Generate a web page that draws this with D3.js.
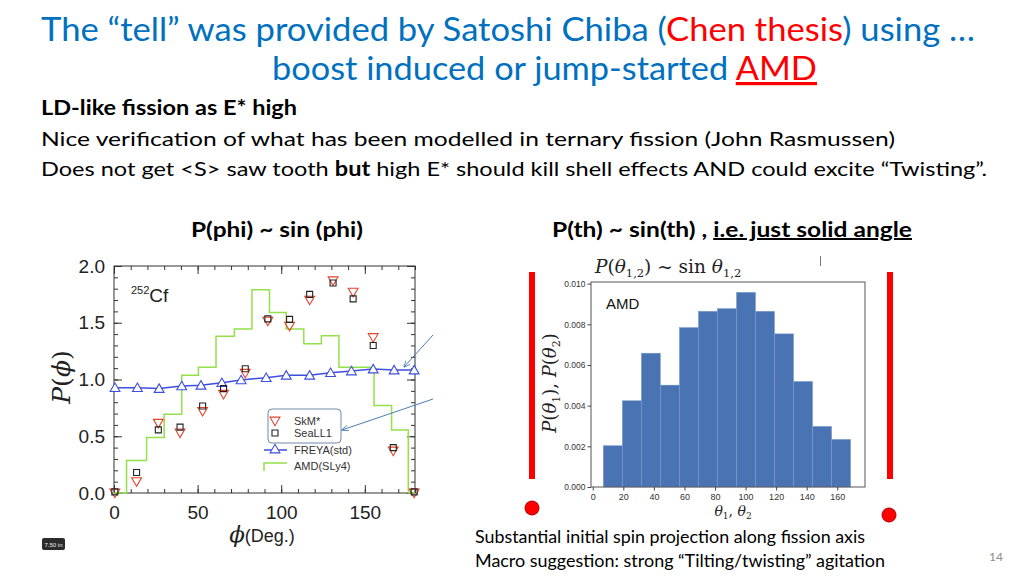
<!DOCTYPE html>
<html>
<head>
<meta charset="utf-8">
<script src="https://cdn.jsdelivr.net/npm/d3@7"></script>
<style>
  body { margin: 0; background: #fff; }
  svg { display: block; }
</style>
</head>
<body>
<script>
// ---- data: left panel, P(phi) for 252Cf ----
var phiPts   = [0.5, 13.5, 26.5, 39.5, 53, 65.5, 78.5, 92, 105, 117, 131, 143, 155, 167, 179.5];
var skmVals  = [0.00, 0.10, 0.615, 0.53, 0.72, 0.87, 1.055, 1.515, 1.47, 1.70, 1.87, 1.77, 1.37, 0.37, 0.00];
var seaVals  = [0.01, 0.18, 0.556, 0.58, 0.767, 0.92, 1.095, 1.534, 1.53, 1.75, 1.85, 1.71, 1.30, 0.40, 0.01];
var freyaPhi = [0.6, 14, 27, 40.5, 52, 64.5, 76, 91, 103, 117, 129.5, 142, 155, 167.5, 179.5];
var freyaVals= [0.928, 0.928, 0.92, 0.943, 0.949, 0.972, 0.996, 1.016, 1.037, 1.037, 1.06, 1.075, 1.092, 1.083, 1.083];
var amdEdges = [0, 7.5, 19.5, 30, 40.5, 50.5, 61, 72, 82.5, 93, 103, 113.5, 124, 134.5, 145, 155.5, 166, 176, 180];
var amdVals  = [0, 0.287, 0.49, 0.694, 1.037, 1.107, 1.382, 1.446, 1.79, 1.59, 1.446, 1.315, 1.385, 1.107, 1.107, 0.77, 0.556, 0];
var phiTicks = [0, 50, 100, 150];
var pTicks   = [0, 0.5, 1.0, 1.5, 2.0];

// ---- data: right panel, AMD theta histogram ----
var thEdges = [6.9, 19.35, 31.8, 44.25, 56.7, 69.15, 81.6, 94.05, 106.5, 118.95, 131.4, 143.85, 156.3, 168.75];
var thVals  = [0.00203, 0.00424, 0.00658, 0.00501, 0.00784, 0.00864, 0.00877, 0.00957, 0.00864, 0.00753, 0.00519, 0.00298, 0.00234];
var thTicks = [0, 20, 40, 60, 80, 100, 120, 140, 160];
var densTicks = [0, 0.002, 0.004, 0.006, 0.008, 0.010];

var W = 1024, H = 576;
var slideFont = "Lato, 'Open Sans', sans-serif";
var chartFont = "'Liberation Sans', Arial, sans-serif";
var mathFont = "'DejaVu Serif', 'Liberation Serif', serif";

var svg = d3.select("body").append("svg")
    .attr("width", W)
    .attr("height", H);

svg.append("defs").append("marker")
    .attr("id", "arrow")
    .attr("viewBox", "0 0 10 10")
    .attr("refX", 9).attr("refY", 5)
    .attr("markerWidth", 7).attr("markerHeight", 7)
    .attr("orient", "auto")
  .append("path")
    .attr("d", "M0,1 L10,5 L0,9")
    .attr("fill", "none")
    .attr("stroke", "#4a7ebb")
    .attr("stroke-width", 1.2);

// slide text helper: parts = [[text, {fill, weight, underline}]...]
function slideText(x, y, size, len, parts, anchor) {
  var t = svg.append("text")
      .attr("x", x).attr("y", y)
      .attr("font-family", slideFont)
      .attr("font-size", size)
      .attr("text-anchor", anchor || "start")
      .attr("textLength", len)
      .attr("lengthAdjust", "spacingAndGlyphs");
  parts.forEach(function(p) {
    var s = t.append("tspan").text(p[0]);
    var o = p[1] || {};
    if (o.fill) s.attr("fill", o.fill);
    if (o.weight) s.attr("font-weight", o.weight);
    if (o.underline) s.attr("text-decoration", "underline");
  });
  return t;
}

var blue = "#0070c0", red = "#ff0000";

// title
slideText(41, 41, 32, 934, [
  ["The \u201ctell\u201d was provided by Satoshi Chiba (", {fill: blue}],
  ["Chen thesis", {fill: red}],
  [") using \u2026", {fill: blue}]
]);
slideText(272, 80, 32, 545, [
  ["boost induced or jump-started ", {fill: blue}],
  ["AMD", {fill: red, underline: true}]
]);

slideText(41, 115, 20, 256, [["LD-like fission as E* high", {fill: "#000", weight: "bold"}]]);
slideText(41, 146, 20, 854, [["Nice verification of what has been modelled in ternary fission (John Rasmussen)", {fill: "#000"}]]);
slideText(41, 176, 20, 946, [
  ["Does not get <S> saw tooth ", {fill: "#000"}],
  ["but", {fill: "#000", weight: "bold"}],
  [" high E* should kill shell effects AND could excite \u201cTwisting\u201d.", {fill: "#000"}]
]);

slideText(191, 237, 20, 172, [["P(phi) ~ sin (phi)", {fill: "#000", weight: "bold"}]]);
slideText(552, 237, 20, 360, [
  ["P(th) ~ sin(th) , ", {fill: "#000", weight: "bold"}],
  ["i.e. just solid angle", {fill: "#000", weight: "bold", underline: true}]
]);

slideText(475, 543, 17, 390, [["Substantial initial spin projection along fission axis", {fill: "#000"}]]);
slideText(475, 567, 17, 410, [["Macro suggestion: strong \u201cTilting/twisting\u201d agitation", {fill: "#000"}]]);

svg.append("text")
    .attr("x", 1003).attr("y", 561)
    .attr("text-anchor", "end")
    .attr("font-family", slideFont)
    .attr("font-size", 12)
    .attr("fill", "#8c8c8c")
    .text("14");

// little ruler tag bottom left
svg.append("rect")
    .attr("x", 42).attr("y", 538).attr("width", 23).attr("height", 12)
    .attr("rx", 2).attr("fill", "#2b2b2b");
svg.append("text")
    .attr("x", 53.5).attr("y", 547)
    .attr("text-anchor", "middle")
    .attr("font-family", chartFont)
    .attr("font-size", 6)
    .attr("fill", "#eee")
    .text("7.50 in");

// ================= left panel =================
var x1 = d3.scaleLinear().domain([0, 180]).range([114, 415]);
var y1 = d3.scaleLinear().domain([0, 2]).range([493, 266]);

var left = svg.append("g");

function tickAxis(axis, transform) {
  var g = left.append("g")
      .attr("transform", transform)
      .call(axis);
  g.select(".domain").remove();
  g.selectAll(".tick line").attr("stroke", "#333").attr("stroke-width", 1);
  return g;
}

var minorX = d3.range(0, 181, 10);
var minorY = d3.range(0, 21, 1).map(function(d) { return d / 10; });

// minor ticks (inward, all four sides)
tickAxis(d3.axisBottom(x1).tickValues(minorX).tickSize(-4).tickFormat(""), "translate(0,493)");
tickAxis(d3.axisTop(x1).tickValues(minorX).tickSize(-4).tickFormat(""), "translate(0,266)");
tickAxis(d3.axisLeft(y1).tickValues(minorY).tickSize(-4).tickFormat(""), "translate(114,0)");
tickAxis(d3.axisRight(y1).tickValues(minorY).tickSize(-4).tickFormat(""), "translate(415,0)");

// major ticks with labels
var xb = tickAxis(d3.axisBottom(x1).tickValues(phiTicks).tickSize(-8).tickPadding(13).tickFormat(d3.format("d")), "translate(0,493)");
xb.selectAll("text").attr("font-family", chartFont).attr("font-size", 19).attr("fill", "#222");
tickAxis(d3.axisTop(x1).tickValues(phiTicks).tickSize(-8).tickFormat(""), "translate(0,266)");
var yl = tickAxis(d3.axisLeft(y1).tickValues(pTicks).tickSize(-8).tickPadding(9).tickFormat(d3.format(".1f")), "translate(114,0)");
yl.selectAll("text").attr("font-family", chartFont).attr("font-size", 19).attr("fill", "#222");
tickAxis(d3.axisRight(y1).tickValues(pTicks).tickSize(-8).tickFormat(""), "translate(415,0)");

left.append("rect")
    .attr("x", 114).attr("y", 266)
    .attr("width", 415 - 114).attr("height", 493 - 266)
    .attr("fill", "none").attr("stroke", "#333").attr("stroke-width", 1);

// AMD(SLy4) step line
var amdStep = [];
amdVals.forEach(function(v, i) {
  amdStep.push([amdEdges[i], v]);
  amdStep.push([amdEdges[i + 1], v]);
});
left.append("path")
    .datum(amdStep)
    .attr("fill", "none")
    .attr("stroke", "#94e04a")
    .attr("stroke-width", 1.5)
    .attr("d", d3.line().x(function(d) { return x1(d[0]); }).y(function(d) { return y1(d[1]); }));

// FREYA line
left.append("path")
    .datum(freyaVals)
    .attr("fill", "none")
    .attr("stroke", "#3d4fdc")
    .attr("stroke-width", 1.5)
    .attr("d", d3.line().x(function(d, i) { return x1(freyaPhi[i]); }).y(function(d) { return y1(d); }));

var triUp = d3.symbol().type(d3.symbolTriangle).size(42);
var square = d3.symbol().type(d3.symbolSquare).size(36);

left.selectAll(".freya")
    .data(freyaVals)
  .enter().append("path")
    .attr("class", "freya")
    .attr("d", triUp)
    .attr("transform", function(d, i) { return "translate(" + x1(freyaPhi[i]) + "," + (y1(d) + 1) + ")"; })
    .attr("fill", "#fff")
    .attr("stroke", "#3d4fdc")
    .attr("stroke-width", 1.1);

left.selectAll(".skm")
    .data(skmVals)
  .enter().append("path")
    .attr("class", "skm")
    .attr("d", triUp)
    .attr("transform", function(d, i) { return "translate(" + x1(phiPts[i]) + "," + (y1(d) - 1) + ") rotate(180)"; })
    .attr("fill", "none")
    .attr("stroke", "#e2432b")
    .attr("stroke-width", 1.1);

left.selectAll(".sea")
    .data(seaVals)
  .enter().append("path")
    .attr("class", "sea")
    .attr("d", square)
    .attr("transform", function(d, i) { return "translate(" + x1(phiPts[i]) + "," + y1(d) + ")"; })
    .attr("fill", "none")
    .attr("stroke", "#222")
    .attr("stroke-width", 1.1);

// 252Cf label
var cf = left.append("text")
    .attr("x", 131).attr("y", 302)
    .attr("font-family", chartFont)
    .attr("fill", "#222");
cf.append("tspan").attr("font-size", 11).attr("dy", -8).text("252");
cf.append("tspan").attr("font-size", 19).attr("dy", 8).text("Cf");

// axis titles
var pl = left.append("text")
    .attr("transform", "translate(70,377) rotate(-90)")
    .attr("text-anchor", "middle")
    .attr("font-family", mathFont)
    .attr("font-size", 25)
    .attr("fill", "#222");
pl.append("tspan").attr("font-style", "italic").text("P");
pl.append("tspan").text("(");
pl.append("tspan").attr("font-style", "italic").text("\u03d5");
pl.append("tspan").text(")");

var xl = left.append("text")
    .attr("x", 262).attr("y", 542)
    .attr("text-anchor", "middle")
    .attr("fill", "#222");
xl.append("tspan").attr("font-family", mathFont).attr("font-style", "italic").attr("font-size", 23).text("\u03d5");
xl.append("tspan").attr("font-family", chartFont).attr("font-size", 18).text("(Deg.)");

// legend
left.append("rect")
    .attr("x", 268).attr("y", 409)
    .attr("width", 73).attr("height", 34)
    .attr("rx", 4)
    .attr("fill", "#fff")
    .attr("stroke", "#6f89aa")
    .attr("stroke-width", 1);

var legItems = ["SkM*", "SeaLL1", "FREYA(std)", "AMD(SLy4)"];
var legY = [421, 433, 450, 466];
legItems.forEach(function(name, i) {
  left.append("text")
      .attr("x", 294).attr("y", legY[i] + 4)
      .attr("font-family", chartFont)
      .attr("font-size", 11)
      .attr("fill", "#333")
      .text(name);
});
left.append("path").attr("d", triUp).attr("transform", "translate(275,420) rotate(180)")
    .attr("fill", "none").attr("stroke", "#e2432b").attr("stroke-width", 1.1);
left.append("path").attr("d", square).attr("transform", "translate(275,433)")
    .attr("fill", "none").attr("stroke", "#222").attr("stroke-width", 1.1);
left.append("line").attr("x1", 264).attr("x2", 287).attr("y1", 450).attr("y2", 450)
    .attr("stroke", "#3d4fdc").attr("stroke-width", 1.5);
left.append("path").attr("d", triUp).attr("transform", "translate(275,450)")
    .attr("fill", "#fff").attr("stroke", "#3d4fdc").attr("stroke-width", 1.1);
left.append("path").attr("d", "M264,471 V463 H287")
    .attr("fill", "none").attr("stroke", "#94e04a").attr("stroke-width", 1.5);

// annotation arrows
svg.append("line").attr("x1", 433).attr("y1", 335).attr("x2", 404).attr("y2", 367)
    .attr("stroke", "#4a7ebb").attr("stroke-width", 1).attr("marker-end", "url(#arrow)");
svg.append("line").attr("x1", 433).attr("y1", 399).attr("x2", 342).attr("y2", 430)
    .attr("stroke", "#4a7ebb").attr("stroke-width", 1).attr("marker-end", "url(#arrow)");

// ================= right panel =================
var x2 = d3.scaleLinear().domain([-1.15, 178.15]).range([591, 865]);
var y2 = d3.scaleLinear().domain([0, 0.01008]).range([487, 282]);

var right = svg.append("g");

right.selectAll(".bar")
    .data(thVals)
  .enter().append("rect")
    .attr("class", "bar")
    .attr("x", function(d, i) { return x2(thEdges[i]); })
    .attr("width", function(d, i) { return x2(thEdges[i + 1]) - x2(thEdges[i]); })
    .attr("y", function(d) { return y2(d); })
    .attr("height", function(d) { return y2(0) - y2(d); })
    .attr("fill", "#4a73b3")
    .attr("stroke", "#7d9ccd")
    .attr("stroke-width", 0.5);

right.append("rect")
    .attr("x", 591).attr("y", 282)
    .attr("width", 865 - 591).attr("height", 487 - 282)
    .attr("fill", "none").attr("stroke", "#555").attr("stroke-width", 1);

var xa = right.append("g")
    .attr("transform", "translate(0,487)")
    .call(d3.axisBottom(x2).tickValues(thTicks).tickSize(3.5).tickPadding(3));
xa.select(".domain").remove();
xa.selectAll("text").attr("font-family", chartFont).attr("font-size", 9).attr("fill", "#333");
xa.selectAll(".tick line").attr("stroke", "#444");

var ya = right.append("g")
    .attr("transform", "translate(591,0)")
    .call(d3.axisLeft(y2).tickValues(densTicks).tickSize(3.5).tickPadding(2).tickFormat(d3.format(".3f")));
ya.select(".domain").remove();
ya.selectAll("text").attr("font-family", chartFont).attr("font-size", 8.5).attr("fill", "#333");
ya.selectAll(".tick line").attr("stroke", "#444");

right.append("text")
    .attr("x", 606).attr("y", 309)
    .attr("font-family", chartFont)
    .attr("font-size", 15)
    .attr("fill", "#111")
    .text("AMD");

// title P(theta_12) ~ sin theta_12
var tt = right.append("text")
    .attr("x", 595).attr("y", 273)
    .attr("font-family", mathFont)
    .attr("font-size", 18.5)
    .attr("fill", "#222");
tt.append("tspan").attr("font-style", "italic").text("P");
tt.append("tspan").text("(");
tt.append("tspan").attr("font-style", "italic").text("\u03b8");
tt.append("tspan").attr("font-size", 11.5).attr("dy", 4).text("1,2");
tt.append("tspan").attr("dy", -4).text(") ~ sin ");
tt.append("tspan").attr("font-style", "italic").text("\u03b8");
tt.append("tspan").attr("font-size", 11.5).attr("dy", 4).text("1,2");

// y label
var ty = right.append("text")
    .attr("transform", "translate(556,383) rotate(-90)")
    .attr("text-anchor", "middle")
    .attr("font-family", mathFont)
    .attr("font-size", 18)
    .attr("fill", "#222");
ty.append("tspan").attr("font-style", "italic").text("P");
ty.append("tspan").text("(");
ty.append("tspan").attr("font-style", "italic").text("\u03b8");
ty.append("tspan").attr("font-size", 11).attr("dy", 4).text("1");
ty.append("tspan").attr("dy", -4).text("), ");
ty.append("tspan").attr("font-style", "italic").text("P");
ty.append("tspan").text("(");
ty.append("tspan").attr("font-style", "italic").text("\u03b8");
ty.append("tspan").attr("font-size", 11).attr("dy", 4).text("2");
ty.append("tspan").attr("dy", -4).text(")");

// x label
var tx = right.append("text")
    .attr("x", 733).attr("y", 516)
    .attr("text-anchor", "middle")
    .attr("font-family", mathFont)
    .attr("font-size", 14)
    .attr("fill", "#222");
tx.append("tspan").attr("font-style", "italic").text("\u03b8");
tx.append("tspan").attr("font-size", 9).attr("dy", 3).text("1");
tx.append("tspan").attr("dy", -3).text(", ");
tx.append("tspan").attr("font-style", "italic").text("\u03b8");
tx.append("tspan").attr("font-size", 9).attr("dy", 3).text("2");

// red bars and dots framing the histogram
[529, 887].forEach(function(x) {
  svg.append("rect")
      .attr("x", x).attr("y", 272)
      .attr("width", 6).attr("height", 207)
      .attr("fill", "#ff0000");
});
svg.append("circle").attr("cx", 532).attr("cy", 508).attr("r", 7)
    .attr("fill", "#f00").attr("stroke", "#b00000").attr("stroke-width", 1);
svg.append("circle").attr("cx", 889).attr("cy", 515).attr("r", 7)
    .attr("fill", "#f00").attr("stroke", "#b00000").attr("stroke-width", 1);

// stray cursor mark
svg.append("line").attr("x1", 820.5).attr("x2", 820.5).attr("y1", 256).attr("y2", 266)
    .attr("stroke", "#777").attr("stroke-width", 1);
</script>
</body>
</html>
